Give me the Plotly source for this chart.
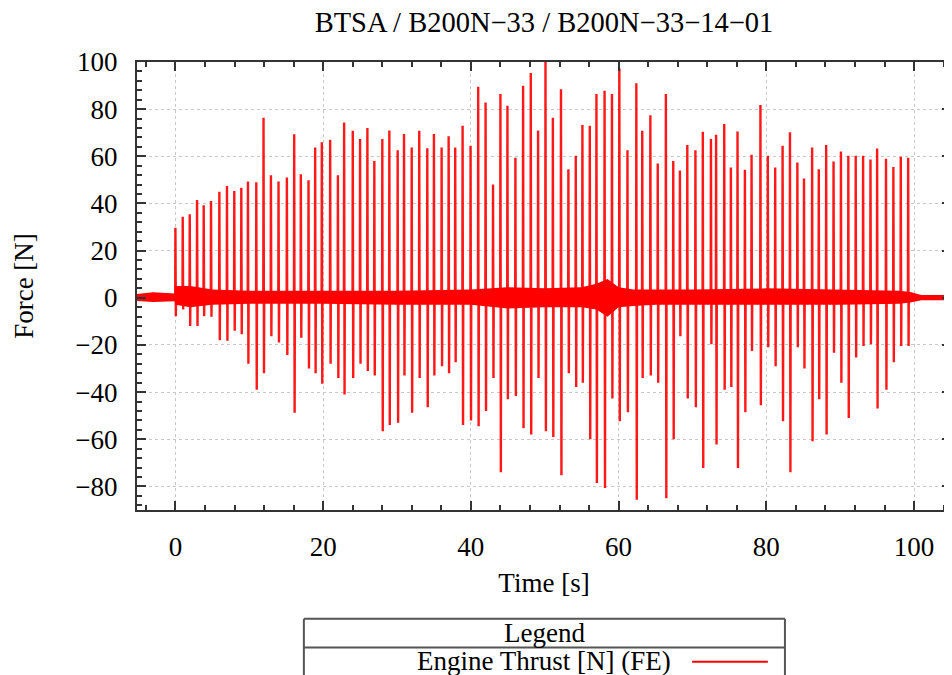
import plotly.graph_objects as go

# spike times [s] with their positive and negative peaks [N]
spike_t = [0.0, 0.99, 1.94, 2.93, 3.83, 4.82, 5.95, 6.98, 7.97, 8.92,
           9.82, 10.95, 11.93, 12.93, 13.96, 15.09, 16.08, 16.98, 18.02, 18.92,
           19.82, 20.95, 22.0, 22.84, 24.01, 25.0, 25.99, 26.93, 28.01, 28.96,
           30.09, 30.95, 31.99, 33.01, 34.1, 35.0, 36.04, 36.99, 37.88, 38.88,
           39.96, 40.99, 41.99, 43.0, 44.0, 44.95, 46.03, 47.07, 48.11, 49.1,
           50.1, 51.1, 52.2, 53.2, 54.2, 55.1, 56.1, 57.0, 58.1, 59.1,
           60.1, 61.2, 62.4, 63.2, 64.3, 65.3, 66.4, 67.4, 68.3, 69.3,
           70.4, 71.4, 72.5, 73.2, 74.3, 75.2, 76.1, 77.1, 78.0, 79.2,
           80.2, 81.2, 82.2, 83.2, 84.2, 85.1, 86.2, 87.1, 88.1, 89.1,
           90.1, 91.1, 92.1, 93.1, 94.1, 95.0, 96.2, 97.2, 98.2, 99.2]
spike_hi = [29.7, 34.4, 35.4, 41.5, 39.2, 41.0, 45.0, 47.4, 45.3, 46.7,
            49.3, 49.0, 76.4, 52.0, 49.3, 51.0, 69.4, 52.4, 49.8, 63.7,
            66.0, 67.0, 52.0, 74.3, 70.8, 67.3, 72.0, 58.0, 67.3, 71.0,
            62.6, 69.5, 63.7, 70.8, 63.4, 69.5, 63.7, 68.5, 63.7, 73.0,
            64.5, 89.5, 82.8, 48.0, 86.4, 81.4, 59.4, 89.9, 95.3, 71.0,
            101.0, 76.4, 88.4, 54.5, 60.2, 73.3, 73.0, 86.4, 87.8, 86.4,
            97.4, 62.6, 91.0, 70.8, 77.4, 57.0, 86.4, 58.0, 54.0, 64.8,
            62.6, 70.4, 67.3, 69.1, 73.7, 55.3, 70.5, 54.3, 60.7, 81.8,
            60.2, 55.3, 64.5, 70.2, 57.4, 50.6, 63.7, 54.5, 64.8, 57.8,
            62.0, 60.2, 60.2, 60.2, 58.7, 63.3, 59.0, 55.5, 59.8, 59.4]
spike_lo = [-7.8, -5.0, -12.0, -12.0, -7.8, -8.0, -18.0, -18.2, -14.0, -15.5,
            -28.0, -39.0, -32.0, -16.3, -19.0, -24.3, -48.8, -17.0, -30.0, -32.0,
            -36.5, -28.0, -34.0, -41.0, -34.0, -28.0, -31.0, -33.0, -56.6, -54.0,
            -53.0, -33.0, -48.8, -34.0, -46.4, -33.0, -29.0, -32.0, -27.3, -54.0,
            -52.0, -54.5, -48.0, -34.0, -74.0, -43.0, -41.6, -55.3, -58.0, -34.0,
            -56.6, -59.0, -75.3, -32.0, -37.8, -36.0, -60.0, -78.6, -80.7, -42.7,
            -52.4, -48.5, -85.6, -34.0, -33.0, -36.0, -85.0, -60.0, -16.3, -42.7,
            -46.4, -72.2, -19.7, -62.2, -39.0, -37.8, -72.2, -48.5, -22.6, -45.6,
            -21.0, -29.0, -52.4, -74.0, -21.0, -30.0, -60.8, -43.0, -58.0, -23.3,
            -36.0, -51.0, -25.3, -20.4, -19.7, -47.0, -39.0, -27.3, -20.4, -20.4]

# envelope of the noise around zero
band_t = [-5.2, -3.0, -0.1, 0.0, 2.0, 5.0, 10.0, 20.0, 30.0, 40.0, 45.0, 50.0,
          55.0, 57.0, 58.5, 60.0, 62.0, 65.0, 70.0, 80.0, 90.0, 98.0, 99.5, 101.0, 105.0]
band_hi = [1.6, 2.4, 1.8, 5.0, 5.0, 3.5, 3.0, 3.0, 3.0, 3.5, 4.5, 4.0,
           4.5, 6.0, 8.0, 4.5, 3.5, 3.5, 3.5, 4.0, 3.5, 3.0, 2.5, 1.2, 1.2]
band_lo = [-1.4, -1.8, -1.5, -3.0, -4.0, -3.0, -2.5, -2.5, -3.0, -3.0, -4.5, -4.0,
           -4.0, -5.0, -8.0, -4.0, -3.5, -3.0, -3.0, -3.0, -3.0, -2.5, -2.0, -1.0, -1.0]

RED = '#ff0000'
SERIF = 'Liberation Serif'
FS = 27

xs, ys = [-5.2], [0.0]
for t, hi, lo in zip(spike_t, spike_hi, spike_lo):
    xs += [t - 0.03, t, t + 0.06, t + 0.09]
    ys += [0.0, hi, lo, 0.0]
xs.append(105.0)
ys.append(0.0)

fig = go.Figure()
fig.add_trace(go.Scatter(x=band_t, y=band_lo, mode='lines', line=dict(width=0, color=RED),
                         showlegend=False, hoverinfo='skip'))
fig.add_trace(go.Scatter(x=band_t, y=band_hi, mode='lines', line=dict(width=0, color=RED),
                         fill='tonexty', fillcolor=RED, showlegend=False, hoverinfo='skip'))
fig.add_trace(go.Scatter(x=xs, y=ys, mode='lines', name='Engine Thrust [N] (FE)',
                         line=dict(color=RED, width=2.4), opacity=0.9, showlegend=False))

axis_common = dict(
    showline=True, linecolor='#333333', linewidth=2, mirror='ticks',
    ticks='inside', ticklen=9, tickwidth=2, tickcolor='#333333',
    showgrid=True, gridcolor='#c8c8c8', griddash='dot', gridwidth=1,
    zeroline=False, tickfont=dict(family=SERIF, size=FS, color='black'),
    minor=dict(ticks='inside', ticklen=5, tickwidth=1.5, tickcolor='#333333', dtick=4, showgrid=False),
)

# the page adds an 8 px body margin, so the margins below are shifted by it
fig.update_layout(
    width=952, height=675,
    margin=dict(l=129, r=9, t=54, b=173, autoexpand=False),
    paper_bgcolor='white', plot_bgcolor='white',
    title=dict(text='BTSA / B200N\u221233 / B200N\u221233\u221214\u221201', x=0.5, xref='paper', xanchor='center',
               y=0.979, yanchor='middle', font=dict(family=SERIF, size=28.5, color='black')),
    xaxis=dict(range=[-5.2, 105], dtick=20, tick0=0, ticklabelstandoff=12,
               title=dict(text='Time [s]', font=dict(family=SERIF, size=FS, color='black'), standoff=12),
               **axis_common),
    yaxis=dict(range=[-90, 100], dtick=20, tick0=0, ticklabelstandoff=12,
               title=dict(text='Force [N]', font=dict(family=SERIF, size=FS, color='black'), standoff=34),
               **axis_common),
)

# gnuplot-style legend box below the plot
box = dict(type='line', xref='paper', yref='paper', line=dict(color='#555555', width=2))
fig.add_shape(**box, x0=0.205, x1=0.796, y0=-0.243, y1=-0.243)
fig.add_shape(**box, x0=0.205, x1=0.796, y0=-0.307, y1=-0.307)
fig.add_shape(**box, x0=0.205, x1=0.205, y0=-0.243, y1=-0.40)
fig.add_shape(**box, x0=0.796, x1=0.796, y0=-0.243, y1=-0.40)
fig.add_shape(type='line', xref='paper', yref='paper', x0=0.682, x1=0.775, y0=-0.339, y1=-0.339,
              line=dict(color=RED, width=2))
fig.add_annotation(text='Legend', xref='paper', yref='paper', x=0.5, y=-0.2746, showarrow=False,
                   xanchor='center', yanchor='middle', font=dict(family=SERIF, size=FS, color='black'))
fig.add_annotation(text='Engine Thrust [N] (FE)', xref='paper', yref='paper', x=0.6585, y=-0.337,
                   showarrow=False, xanchor='right', yanchor='middle',
                   font=dict(family=SERIF, size=FS, color='black'))

fig.write_html('out.html')
